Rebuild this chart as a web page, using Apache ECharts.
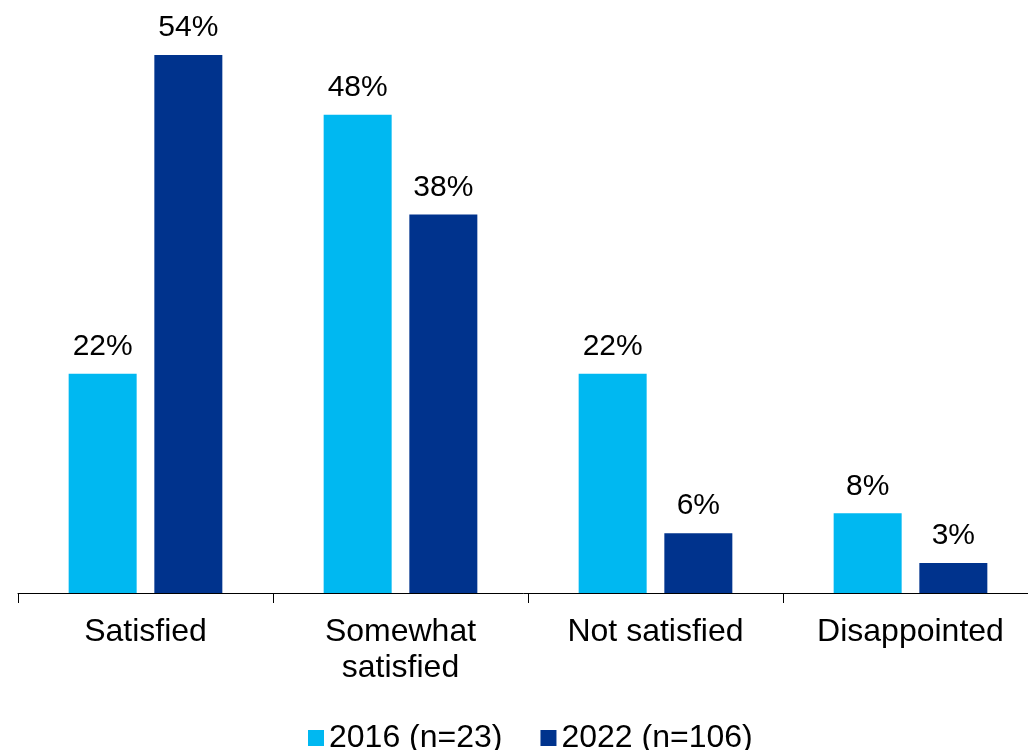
<!DOCTYPE html>
<html>
<head>
<meta charset="utf-8">
<script src="https://cdn.jsdelivr.net/npm/echarts@6/dist/echarts.min.js"></script>
<style>
  html, body { margin: 0; padding: 0; background: #fff; }
  #chart { width: 1028px; height: 750px; }
</style>
</head>
<body>
<div id="chart"></div>
<script>
// categories and values (percent)
var categories = ['Satisfied', 'Somewhat\nsatisfied', 'Not satisfied', 'Disappointed'];
var values2016 = [22, 48, 22, 8];
var values2022 = [54, 38, 6, 3];
var seriesNames = ['2016 (n=23)', '2022 (n=106)'];

var chart = echarts.init(document.getElementById('chart'));

var labelStyle = {
    show: true,
    position: 'top',
    distance: 12,
    formatter: '{c}%',
    color: '#000',
    fontFamily: 'Liberation Sans',
    fontSize: 30
};

chart.setOption({
    animation: false,
    textStyle: { fontFamily: 'Liberation Sans' },
    legend: {
        data: seriesNames,
        left: 303,
        top: 717,
        itemWidth: 16,
        itemHeight: 16,
        itemGap: 38,
        icon: 'rect',
        textStyle: { fontSize: 32, color: '#000', fontFamily: 'Liberation Sans' }
    },
    // the last category runs a bit past the right edge, like the original
    grid: { left: 18, width: 1020, top: 55, bottom: 157, containLabel: false, outerBoundsMode: 'none' },
    xAxis: {
        type: 'category',
        data: categories,
        axisLine: { lineStyle: { color: '#000', width: 1 } },
        axisTick: { show: true, length: 10, lineStyle: { color: '#000' } },
        axisLabel: {
            color: '#000',
            fontSize: 32,
            lineHeight: 36,
            margin: 21,
            fontFamily: 'Liberation Sans'
        }
    },
    yAxis: {
        type: 'value',
        min: 0,
        max: 54,
        show: false
    },
    series: [
        {
            name: seriesNames[0],
            type: 'bar',
            data: values2016,
            barWidth: 68,
            barGap: '26%',
            itemStyle: { color: '#00B8F1' },
            label: labelStyle
        },
        {
            name: seriesNames[1],
            type: 'bar',
            data: values2022,
            barWidth: 68,
            itemStyle: { color: '#00338D' },
            label: labelStyle
        }
    ]
});
</script>
</body>
</html>
